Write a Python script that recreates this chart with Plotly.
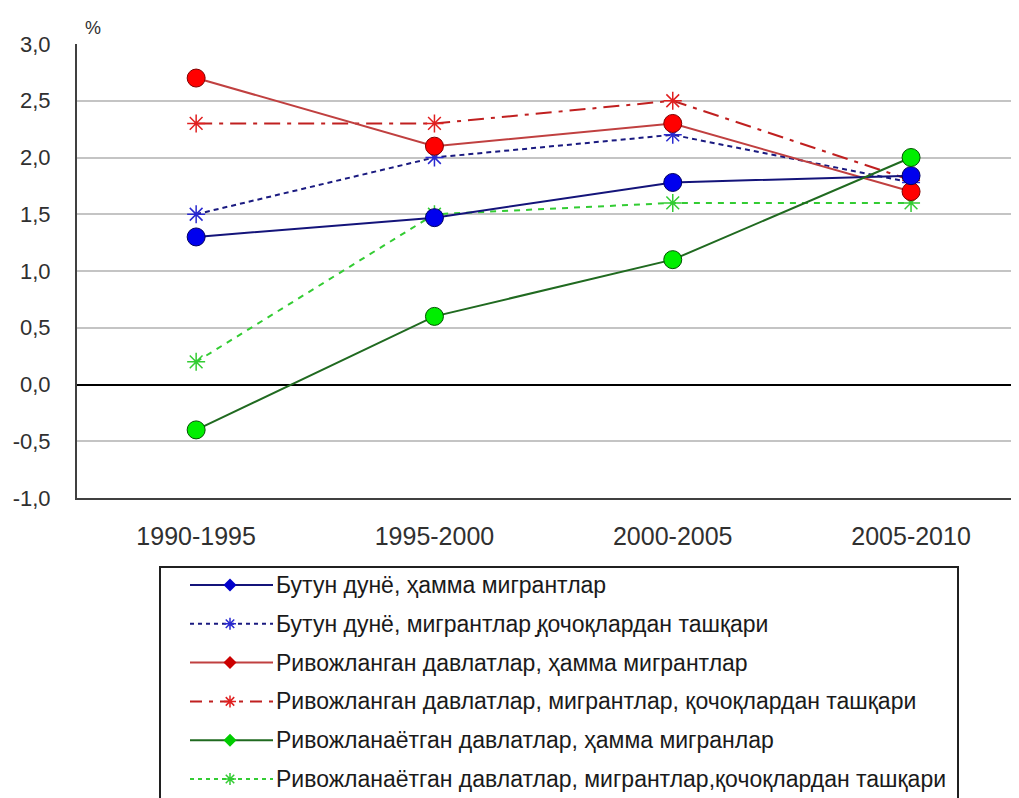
import plotly.graph_objects as go

# ---------------- data ----------------
periods = ["1990-1995", "1995-2000", "2000-2005", "2005-2010"]
world_all = [1.3, 1.47, 1.78, 1.84]
world_excl = [1.5, 2.0, 2.2, 1.78]
dev_all = [2.7, 2.1, 2.3, 1.7]
dev_excl = [2.3, 2.3, 2.5, 1.8]
devg_all = [-0.4, 0.6, 1.1, 2.0]
devg_excl = [0.2, 1.5, 1.6, 1.6]

names = [
    "Бутун дунё, ҳамма мигрантлар",
    "Бутун дунё, мигрантлар ̡қочоқлардан ташқари",
    "Ривожланган давлатлар, ҳамма мигрантлар",
    "Ривожланган давлатлар, мигрантлар, қочоқлардан ташқари",
    "Ривожланаётган давлатлар, ҳамма мигранлар",
    "Ривожланаётган давлатлар, мигрантлар,қочоқлардан ташқари",
]
y_ticks = [-1.0, -0.5, 0.0, 0.5, 1.0, 1.5, 2.0, 2.5, 3.0]
y_ticktext = ["-1,0", "-0,5", "0,0", "0,5", "1,0", "1,5", "2,0", "2,5", "3,0"]

W, H = 1019, 798
OFF = 8  # page body margin; layout pixel positions below are in screen pixels
FONT = "Liberation Sans, Arial, sans-serif"

# style per series: (values, line color, dash, marker kind, marker fill, marker edge)
series = [
    (world_excl, "#1a1a80", "5px,4px", "star", "#2a2ad0", "#2a2ad0"),
    (dev_excl, "#c02020", "16px,7px,4px,7px", "star", "#e02020", "#e02020"),
    (devg_excl, "#33cc33", "6px,6px", "star", "#33cc33", "#33cc33"),
    (dev_all, "#c04040", "solid", "circle", "#ff0000", "#800000"),
    (world_all, "#14147a", "solid", "circle", "#0000ee", "#000060"),
    (devg_all, "#206a20", "solid", "circle", "#00ee00", "#005000"),
]
order_names = [names[1], names[3], names[5], names[2], names[0], names[4]]

fig = go.Figure()
for (vals, lc, dash, kind, fill, edge), nm in zip(series, order_names):
    if kind == "circle":
        marker = dict(symbol="circle", size=18, color=fill, line=dict(color=edge, width=1))
    else:
        marker = dict(symbol="asterisk-open", size=15, color=fill, line=dict(color=fill, width=1.5))
    fig.add_trace(go.Scatter(
        x=periods, y=vals, mode="lines+markers", name=nm,
        line=dict(color=lc, width=2, dash=dash), marker=marker,
        showlegend=False, xaxis="x", yaxis="y", cliponaxis=False,
    ))

# ---------------- manual legend (keys drawn on a hidden helper axis) ----------------
leg_left, leg_right, leg_top = 160 - OFF, 958 - OFF, 567 - OFF
row_y0, row_step = 585 - OFF, 38.8
key_x0, key_mid, key_x1, text_x = 190 - OFF, 230 - OFF, 273 - OFF, 274 - OFF
legend_styles = [
    ("#14147a", "solid", "diamond", "#0000cc"),
    ("#1a1a80", "4px,4px", "asterisk-open", "#2a2ad0"),
    ("#c04040", "solid", "diamond", "#cc0000"),
    ("#c02020", "12px,7px,4px,7px", "asterisk-open", "#e02020"),
    ("#206a20", "solid", "diamond", "#00cc00"),
    ("#33cc33", "4px,4px", "asterisk-open", "#33cc33"),
]
for i, (nm, (lc, dash, sym, mc)) in enumerate(zip(names, legend_styles)):
    yy = row_y0 + i * row_step
    fig.add_trace(go.Scatter(
        x=[key_x0, key_x1], y=[yy, yy], mode="lines",
        line=dict(color=lc, width=2, dash=dash),
        showlegend=False, hoverinfo="skip", xaxis="x2", yaxis="y2",
    ))
    mk = dict(symbol=sym, size=10, color=mc,
              line=dict(color=mc, width=1.5 if sym != "diamond" else 0))
    fig.add_trace(go.Scatter(
        x=[key_mid], y=[yy], mode="markers", marker=mk,
        showlegend=False, hoverinfo="skip", xaxis="x2", yaxis="y2",
    ))
    fig.add_annotation(
        x=text_x, y=yy, xref="x2", yref="y2", text=nm, showarrow=False,
        xanchor="left", yanchor="middle",
        font=dict(family=FONT, size=23, color="#1a1a1a"),
    )

# legend border
fig.add_shape(type="rect", xref="paper", yref="paper",
              x0=leg_left / W, x1=leg_right / W, y0=-0.05, y1=1 - leg_top / H,
              line=dict(color="#202020", width=2), fillcolor="rgba(0,0,0,0)", layer="below")

plot_left, plot_top, plot_bottom = 77 - OFF, 44 - OFF, 498 - OFF
cat_step = 238.3
fig.update_layout(
    width=W, height=H, autosize=False,
    margin=dict(l=0, r=0, t=0, b=0, pad=0),
    paper_bgcolor="white", plot_bgcolor="rgba(0,0,0,0)",
    showlegend=False,
    xaxis=dict(
        domain=[plot_left / W, 1.0], type="category", automargin=False,
        range=[-0.5, -0.5 + (W - plot_left) / cat_step],
        showgrid=False, zeroline=False,
        showline=True, linecolor="#404040", linewidth=2,
        ticks="", tickfont=dict(family=FONT, size=25, color="#303030"),
        ticklabelstandoff=15,
    ),
    yaxis=dict(
        domain=[1 - plot_bottom / H, 1 - plot_top / H], automargin=False,
        range=[-1.0, 3.0], tickvals=y_ticks, ticktext=y_ticktext,
        showgrid=True, gridcolor="#c4c4c4", gridwidth=1.5,
        zeroline=True, zerolinecolor="#000000", zerolinewidth=1.5,
        showline=True, linecolor="#404040", linewidth=2,
        ticks="", tickfont=dict(family=FONT, size=22, color="#303030"),
        ticklabelstandoff=20,
    ),
    xaxis2=dict(domain=[leg_left / W, leg_right / W], range=[leg_left, leg_right],
                visible=False, fixedrange=True, anchor="y2", automargin=False),
    yaxis2=dict(domain=[0, 1 - leg_top / H], range=[H, leg_top],
                visible=False, fixedrange=True, anchor="x2", automargin=False),
)

fig.add_annotation(x=(93 - OFF) / W, y=1 - (28 - OFF) / H, xref="paper", yref="paper", text="%",
                   xanchor="center", yanchor="middle",
                   showarrow=False, font=dict(family=FONT, size=18, color="#303030"))

fig.write_html("out.html")
